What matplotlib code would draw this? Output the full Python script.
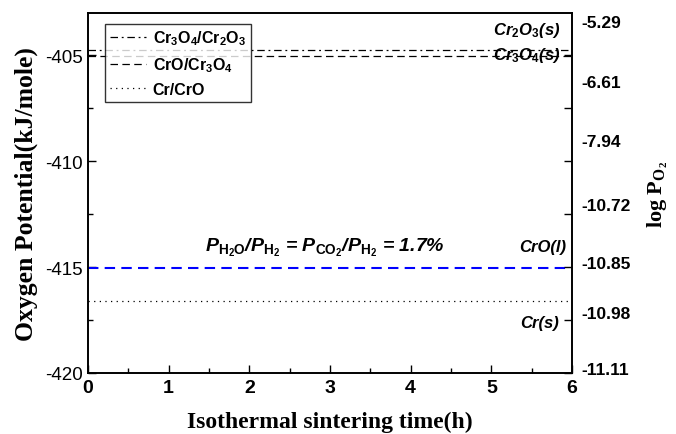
import matplotlib
matplotlib.use("Agg")
import matplotlib.pyplot as plt

# --- data ---
time_h = [0, 6]
phases = ["Cr$_3$O$_4$/Cr$_2$O$_3$", "CrO/Cr$_3$O$_4$", "Cr/CrO"]
phase_potential = [-404.73, -405.05, -416.6]
gas_potential = -415.05  # P_H2O/P_H2 = P_CO2/P_H2 = 1.7%

# right axis: log P_O2 labels placed at left-axis values
right_tick_pos = [-420, -417.5, -415, -412.5, -410, -407.5, -405]
right_label_pos = [-403.4, -406.2, -409.0, -412.0, -414.75, -417.1, -419.75]
right_labels = ["-5.29", "-6.61", "-7.94", "-10.72", "-10.85", "-10.98", "-11.11"]

phase_names = ["Cr$_2$O$_3$(s)", "Cr$_3$O$_4$(s)", "CrO(l)", "Cr(s)"]
phase_name_x = [5.44, 5.44, 5.64, 5.6]
phase_name_y = [-403.76, -404.98, -414.05, -417.6]

plt.rcParams["font.family"] = ["Liberation Sans", "DejaVu Sans"]
plt.rcParams["axes.unicode_minus"] = False
plt.rcParams["mathtext.fontset"] = "custom"
plt.rcParams["mathtext.rm"] = "Liberation Sans:bold"
plt.rcParams["mathtext.it"] = "Liberation Sans:italic:bold"
plt.rcParams["mathtext.bf"] = "Liberation Sans:bold"
plt.rcParams["mathtext.sf"] = "Liberation Serif:bold"

fig = plt.figure(figsize=(6.76, 4.35), dpi=100)
ax = fig.add_axes([88/676, 1 - 374/435, 484/676, 360/435])

styles = [(0, (6, 3, 1.5, 3)), (0, (6, 3.5)), (0, (1, 3.5))]
for name, val, ls in zip(phases, phase_potential, styles):
    ax.plot(time_h, [val, val], color="black", lw=0.9, linestyle=ls, label=name)
ax.plot(time_h, [gas_potential, gas_potential], color="blue", lw=1.5,
        linestyle=(0, (5, 3)))

ax.set_xlim(0, 6)
ax.set_ylim(-420, -403)
ax.set_xticks(range(7))
ax.set_xticks([0.5 + i for i in range(6)], minor=True)
ax.set_yticks([-420, -415, -410, -405])
ax.set_yticks([-417.5, -412.5, -407.5], minor=True)
ax.tick_params(which="both", direction="in", right=False, top=False)
ax.tick_params(which="major", length=6, width=1)
ax.tick_params(which="minor", length=3.5, width=1)
ax.tick_params(axis="y", labelsize=13.5, pad=4)
ax.tick_params(axis="x", labelsize=14, pad=4)
for lab in ax.get_xticklabels():
    lab.set_fontweight("bold")
for sp in ax.spines.values():
    sp.set_linewidth(1.2)

ax.set_xlabel("Isothermal sintering time(h)", family="Liberation Serif",
              fontweight="bold", fontsize=17, labelpad=11)
ax.set_ylabel("Oxygen Potential(kJ/mole)", family="Liberation Serif",
              fontweight="bold", fontsize=18.5, labelpad=5)

leg = ax.legend(loc="upper left", bbox_to_anchor=(0.035, 0.97), borderaxespad=0,
                fontsize=11.5, frameon=True, fancybox=False, edgecolor="black",
                handlelength=2.3, handletextpad=0.4, labelspacing=0.5,
                borderpad=0.3)
leg.get_frame().set_linewidth(1)
for t in leg.get_texts():
    t.set_fontweight("bold")

for name, x, y in zip(phase_names, phase_name_x, phase_name_y):
    ax.text(x, y, name, ha="center", va="center", fontsize=12,
            style="italic", fontweight="bold")

ax.text(2.94, -414.05,
        "P$_{\\rm H_2O}$/P$_{\\rm H_2}$ = P$_{\\rm CO_2}$/P$_{\\rm H_2}$ = 1.7%",
        ha="center", va="center", fontsize=14, style="italic",
        fontweight="bold")

# right axis
ax2 = ax.twinx()
ax2.set_ylim(ax.get_ylim())
ax2.set_yticks(right_tick_pos)
ax2.set_yticklabels([])
ax2.set_yticks(right_label_pos, minor=True)
ax2.set_yticklabels(right_labels, minor=True)
ax2.tick_params(which="major", direction="in", length=6, width=1)
ax2.tick_params(which="minor", length=0, labelsize=12.5, pad=7)
for lab in ax2.get_yticklabels(minor=True):
    lab.set_fontweight("bold")
for sp in ax2.spines.values():
    sp.set_linewidth(1.2)
ax2.set_ylabel(r"log P$_{\mathsf{O_2}}$", family="Liberation Serif",
               fontweight="bold", fontsize=16, rotation=90, labelpad=10)

fig.savefig("out.png", dpi=100)
